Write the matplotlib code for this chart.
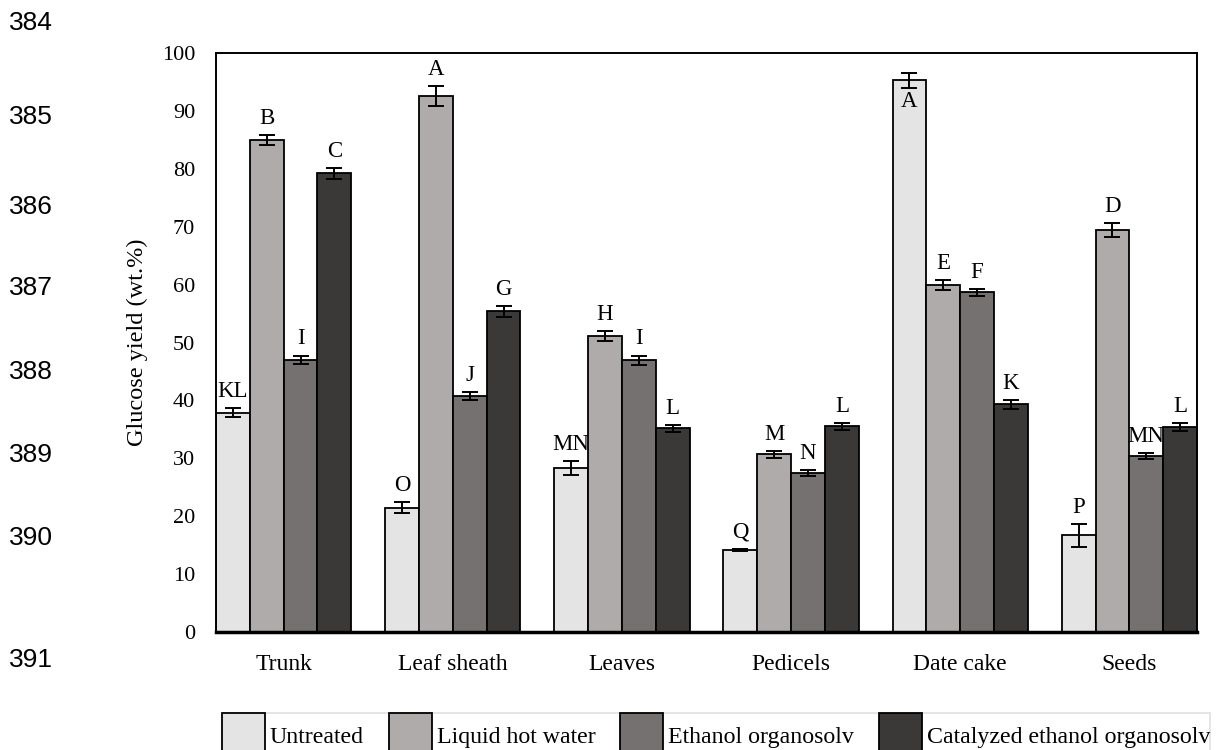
import numpy as np
import matplotlib.pyplot as plt
from matplotlib.patches import Patch

# Feedstocks and pretreatments
parts = ['Trunk', 'Leaf sheath', 'Leaves', 'Pedicels', 'Date cake', 'Seeds']
treatments = ['Untreated', 'Liquid hot water', 'Ethanol organosolv', 'Catalyzed ethanol organosolv']
colors = ['#E4E4E4', '#AFABAB', '#767171', '#3B3838']

# Glucose yield (wt.%) per pretreatment
untreated = [37.9, 21.5, 28.3, 14.2, 95.3, 16.7]
lhw = [85.0, 92.6, 51.1, 30.7, 59.9, 69.5]
eo = [47.0, 40.8, 46.9, 27.4, 58.7, 30.4]
ceo = [79.2, 55.4, 35.2, 35.5, 39.3, 35.4]

# standard deviations
untreated_sd = [0.8, 1.0, 1.2, 0.2, 1.3, 2.0]
lhw_sd = [0.9, 1.7, 0.9, 0.6, 0.9, 1.2]
eo_sd = [0.75, 0.7, 0.85, 0.5, 0.6, 0.55]
ceo_sd = [1.0, 0.95, 0.6, 0.6, 0.8, 0.65]

# Duncan groups
untreated_grp = ['KL', 'O', 'MN', 'Q', 'A', 'P']
lhw_grp = ['B', 'A', 'H', 'M', 'E', 'D']
eo_grp = ['I', 'J', 'I', 'N', 'F', 'MN']
ceo_grp = ['C', 'G', 'L', 'L', 'K', 'L']

# manuscript line numbers in the margin
line_nums = ['384', '385', '386', '387', '388', '389', '390', '391']
line_num_y = [23, 117, 207, 288, 372, 455, 538, 660]

values = [untreated, lhw, eo, ceo]
errors = [untreated_sd, lhw_sd, eo_sd, ceo_sd]
groups = [untreated_grp, lhw_grp, eo_grp, ceo_grp]

plt.rcParams['font.family'] = ['Liberation Serif', 'DejaVu Serif']

W, H = 1216, 750
fig = plt.figure(figsize=(W / 100, H / 100), dpi=100)
ax = fig.add_axes([216 / W, 1 - 632 / H, (1197 - 216) / W, (632 - 53) / H])

x = np.arange(len(parts)) * 5.0
for j in range(4):
    xs = x + (j - 1.5)
    ax.bar(xs, values[j], width=1.0, color=colors[j], edgecolor='black', linewidth=1.3, zorder=2)
    ax.errorbar(xs, values[j], yerr=errors[j], fmt='none', ecolor='black',
                elinewidth=1.4, capsize=6, capthick=1.4, zorder=3)
    for k in range(len(parts)):
        v, e, g = values[j][k], errors[j][k], groups[j][k]
        if v + e > 95:
            # no room above the frame, put the letter inside the bar
            ax.annotate(g, (xs[k], v - e), xytext=(0, -2), textcoords='offset points',
                        ha='center', va='top', fontsize=16.5)
        else:
            ax.annotate(g, (xs[k], v + e), xytext=(0, 8), textcoords='offset points',
                        ha='center', va='baseline', fontsize=16.5)

ax.set_xlim(-2, x[-1] + 2)
ax.set_ylim(0, 100)
ax.set_yticks(np.arange(0, 101, 10))
ax.set_xticks(x)
ax.set_xticklabels(parts, fontsize=17)
ax.tick_params(axis='y', length=0, pad=15, labelsize=16)
ax.tick_params(axis='x', length=0, pad=16)
ax.set_ylabel('Glucose yield (wt.%)', fontsize=17.5, labelpad=10)
for side in ['left', 'top', 'right']:
    ax.spines[side].set_linewidth(1.4)
ax.spines['bottom'].set_linewidth(2.5)

# legend strip along the bottom edge, its swatches run off the page
handles = [Patch(facecolor=c, edgecolor='black', linewidth=1.3) for c in colors]
leg = ax.legend(handles, treatments, ncol=4, loc='upper left',
                bbox_to_anchor=(222 / W, 1 - 713 / H), bbox_transform=fig.transFigure,
                fontsize=17.2, frameon=True, fancybox=False, edgecolor='#D9D9D9',
                handlelength=1.8, handleheight=2.6, handletextpad=0.2,
                columnspacing=1.05, borderpad=0.0, borderaxespad=0)
leg.get_frame().set_linewidth(1.2)

for t, yy in zip(line_nums, line_num_y):
    fig.text(9 / W, 1 - yy / H, t, ha='left', va='center', fontsize=19,
             family=['Liberation Sans', 'DejaVu Sans'])

fig.savefig('out.png', dpi=100)
